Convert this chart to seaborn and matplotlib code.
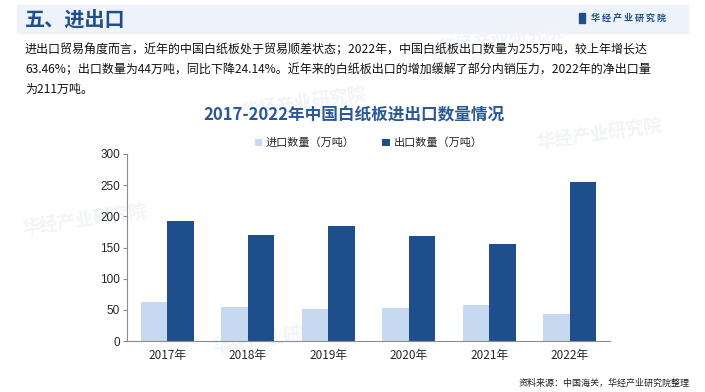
#!/usr/bin/env python3
"""China white paperboard import/export volume, 2017-2022."""

import matplotlib.pyplot as plt
import pandas as pd
import seaborn as sns
from matplotlib.patches import Rectangle
from matplotlib.ticker import FixedLocator

YEARS = ["2017年", "2018年", "2019年", "2020年", "2021年", "2022年"]
IMPORT = [62, 54, 52, 53, 58, 44]
EXPORT = [193, 170, 185, 169, 156, 255]
SERIES = ["进口数量（万吨）", "出口数量（万吨）"]
Y_TICKS = [0, 50, 100, 150, 200, 250, 300]

TITLE = "2017-2022年中国白纸板进出口数量情况"
HEADER = "五、进出口"
BRAND = "华 经 产 业 研 究 院"
SOURCE = "资料来源：中国海关，华经产业研究院整理"
PARAGRAPH = [
    "进出口贸易角度而言，近年的中国白纸板处于贸易顺差状态；2022年，中国白纸板出口数量为255万吨，较上年增长达",
    "63.46%；出口数量为44万吨，同比下降24.14%。近年来的白纸板出口的增加缓解了部分内销压力，2022年的净出口量",
    "为211万吨。",
]

COLORS = {SERIES[0]: "#C6D9F0", SERIES[1]: "#1F4E8C"}
DARK = "#1F4E8C"


def main() -> None:
    sns.set_theme(style="white")
    plt.rcParams["font.family"] = ["Noto Sans CJK SC", "DejaVu Sans"]

    df = pd.DataFrame({"year": YEARS * 2, "series": [SERIES[0]] * 6 + [SERIES[1]] * 6,
                       "value": IMPORT + EXPORT})

    fig = plt.figure(figsize=(7.05, 3.92), dpi=100)
    fig.patch.set_facecolor("white")

    # header band
    fig.patches.append(Rectangle((17 / 705, 1 - 33 / 392), 671 / 705, 28 / 392,
                                 transform=fig.transFigure, color="#EEF3FA", zorder=-2))
    fig.text(25 / 705, 1 - 19 / 392, HEADER, fontsize=14.5, fontweight="bold", color=DARK,
             va="center")
    fig.patches.append(Rectangle((579 / 705, 1 - 23 / 392), 6 / 705, 10 / 392,
                                 transform=fig.transFigure, color=DARK, zorder=1))
    fig.text(591 / 705, 1 - 18 / 392, BRAND, fontsize=6.5, fontweight="bold", color=DARK,
             va="center")

    # faint watermarks
    for x, y in [(0.62, 0.86), (0.03, 0.40), (0.34, 0.70), (0.3, 0.10), (0.76, 0.62)]:
        fig.text(x, y, "华经产业研究院", fontsize=13, fontweight="bold", color="#F1F4F8",
                 rotation=8, zorder=-1)

    for i, line in enumerate(PARAGRAPH):
        fig.text(25 / 705, 1 - (50 + i * 19.5) / 392, line, fontsize=8.65, color="#111111",
                 va="center")

    fig.text(354 / 705, 1 - 115 / 392, TITLE, fontsize=12, fontweight="bold", color="#2B5797",
             ha="center", va="center")

    ax = fig.add_axes([127 / 705, 1 - 341 / 392, 483 / 705, 187 / 392])
    ax.patch.set_alpha(0)
    sns.barplot(data=df, x="year", y="value", hue="series", palette=COLORS, width=0.66,
                gap=0, saturation=1, linewidth=0, ax=ax, legend=True)

    ax.set_ylim(0, 300)
    ax.set_xlim(-0.5, 5.5)
    ax.set_yticks(Y_TICKS)
    ax.set_xlabel("")
    ax.set_ylabel("")
    for s in ["top", "right"]:
        ax.spines[s].set_visible(False)
    for s in ["left", "bottom"]:
        ax.spines[s].set_color("#8C8C8C")
        ax.spines[s].set_linewidth(0.8)
    ax.tick_params(axis="x", which="major", length=0, labelsize=8.5, pad=6)
    ax.xaxis.set_minor_locator(FixedLocator([i - 0.5 for i in range(7)]))
    ax.tick_params(axis="x", which="minor", length=4, color="#8C8C8C", width=0.8, direction="out")
    ax.tick_params(axis="y", length=3, color="#8C8C8C", width=0.8, labelsize=8.5, pad=2,
                   left=True)
    for lab in ax.get_yticklabels():
        lab.set_family(["Liberation Sans", "DejaVu Sans"])

    ax.legend(loc="center", bbox_to_anchor=(0.5, 1 + 11 / 187), ncol=2, frameon=False,
              fontsize=8, handlelength=0.7, handleheight=0.7, handletextpad=0.3, columnspacing=2.5)

    fig.text(690 / 705, 1 - 383 / 392, SOURCE, fontsize=6.5, color="#222222", ha="right",
             va="center")

    fig.savefig("out.png", dpi=100)
    plt.close(fig)


if __name__ == "__main__":
    main()
